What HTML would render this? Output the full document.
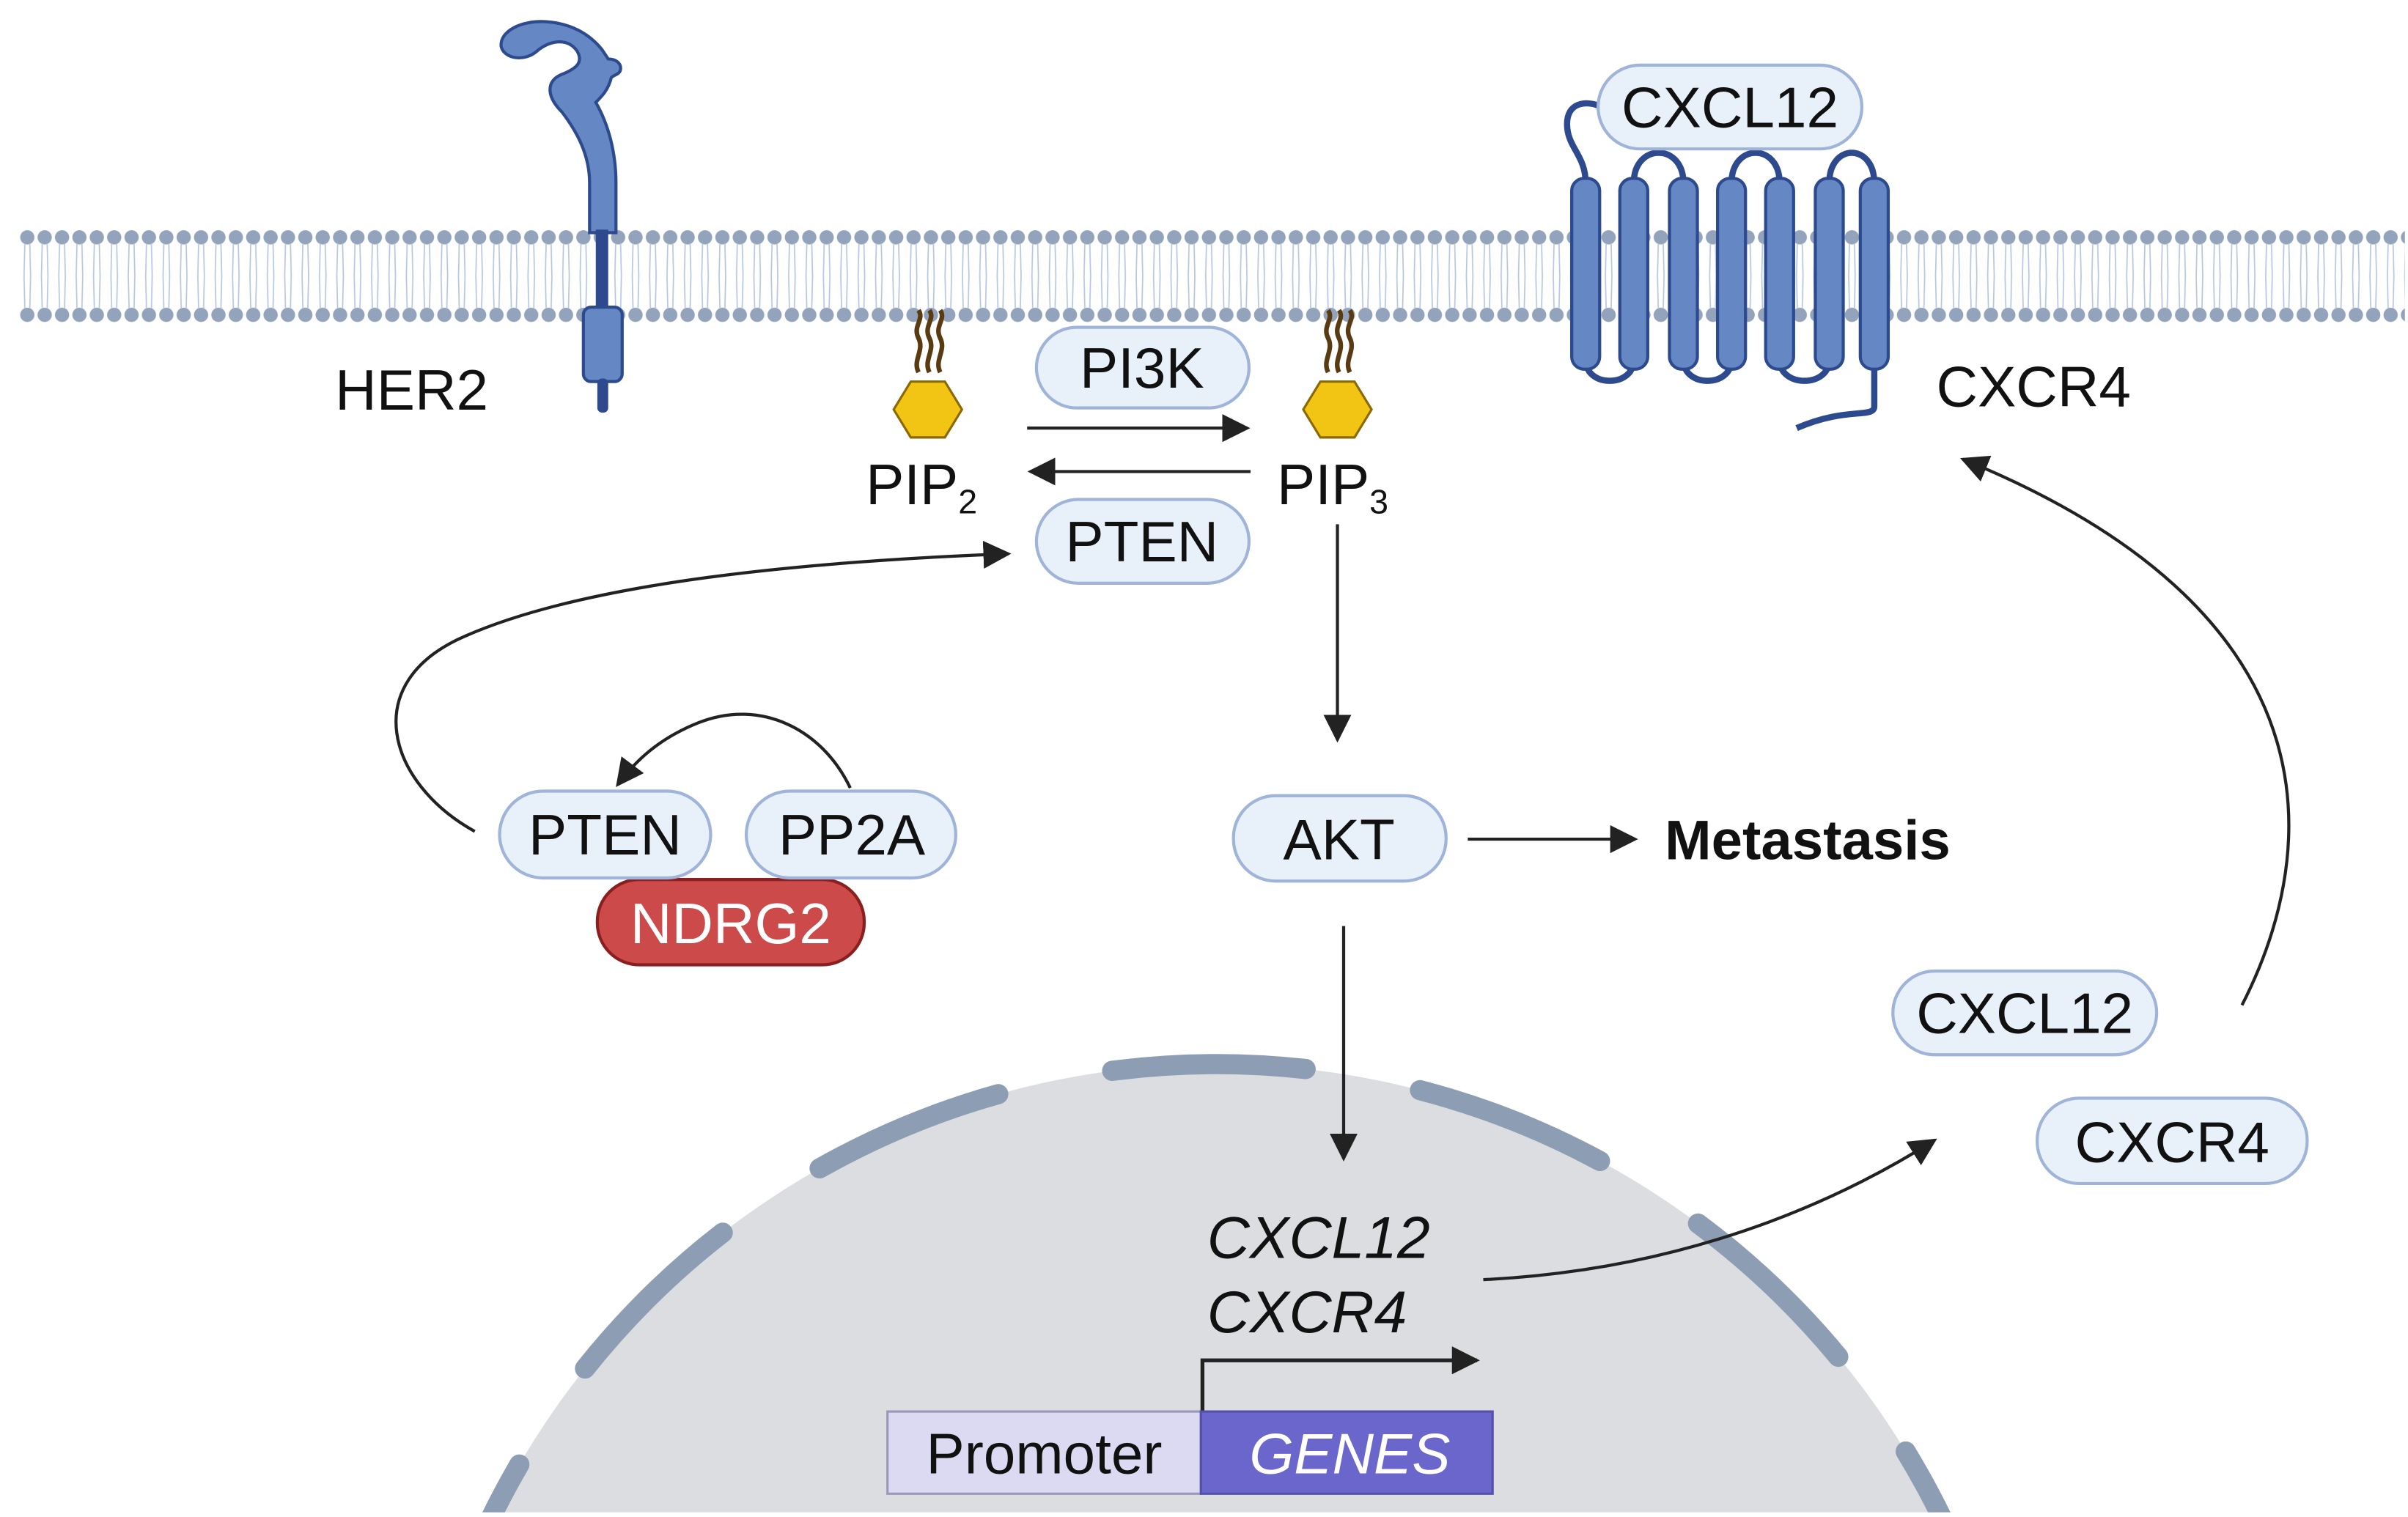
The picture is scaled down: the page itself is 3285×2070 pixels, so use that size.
<!DOCTYPE html>
<html><head><meta charset="utf-8"><style>
html,body{margin:0;padding:0;background:#fff;width:3285px;height:2070px;overflow:hidden}
svg{display:block}
text{font-family:"Liberation Sans",sans-serif}
</style></head><body>
<svg width="3285" height="2070" viewBox="0 0 1552 978" preserveAspectRatio="none" xmlns="http://www.w3.org/2000/svg">
<defs>
<marker id="ah2" viewBox="0 0 10 10" refX="9" refY="5" markerWidth="18" markerHeight="18" orient="auto" markerUnits="userSpaceOnUse"><path d="M0,0 L10,5 L0,10 z" fill="#222"/></marker>
<pattern id="heads" x="12" y="148" width="11.2" height="60" patternUnits="userSpaceOnUse">
<circle cx="5.6" cy="5" r="4.6" fill="#93a3bb"/>
<circle cx="5.6" cy="55" r="4.6" fill="#93a3bb"/>
<path d="M4,9 L3.5,30 M7.2,9 L7.7,30 M4,51 L3.5,30 M7.2,51 L7.7,30" stroke="#b7c6e0" stroke-width="0.8" fill="none"/>
</pattern>
</defs>
<rect width="1552" height="978" fill="#fff"/>
<rect x="12" y="148" width="1538" height="60" fill="url(#heads)"/>

<clipPath id="nc"><rect x="0" y="0" width="1552" height="975"/></clipPath>
<g clip-path="url(#nc)">
<circle cx="784" cy="1206" r="520" fill="#dcdde0"/>
<circle cx="784" cy="1206" r="520" fill="none" stroke="#8d9db4" stroke-width="13" stroke-linecap="round" stroke-dasharray="125 75" stroke-dashoffset="17"/>
</g>

<!-- HER2 -->
<path d="M380,150 L380,118 C380,100 372,85 362,72 C352,62 352,52 362,48 C372,44 376,40 372,33 C366,24 354,26 346,33 C338,40 325,38 323,30 C322,20 336,13 352,14 C368,15 380,22 388,32 L392,38 C396,38 400,40 400,44 C400,48 396,48 394,50 C392,58 388,62 384,66 C392,80 397,98 397,118 L397,150 Z" fill="#6587c4" stroke="#2e4a8e" stroke-width="2"/>
<rect x="384" y="148" width="8" height="52" fill="#2e4a8e"/>
<rect x="376" y="198" width="25" height="48" rx="5" fill="#6587c4" stroke="#2e4a8e" stroke-width="2"/>
<rect x="385" y="244" width="7" height="22" rx="3" fill="#2e4a8e"/>
<text x="216" y="264" font-size="37" fill="#111">HER2</text>

<!-- CXCR4 receptor -->
<g fill="none" stroke="#2e4a8e" stroke-width="4">
<path d="M1022,118 C1022,100 1010,95 1010,80 C1010,66 1022,65 1030,68"/>
<path d="M1053,118 C1053,92 1085,92 1085,118"/>
<path d="M1116,118 C1116,92 1147,92 1147,118"/>
<path d="M1179,118 C1179,92 1208,92 1208,118"/>
<path d="M1022,232 C1022,250 1053,250 1053,232"/>
<path d="M1085,232 C1085,250 1116,250 1116,232"/>
<path d="M1147,232 C1147,250 1179,250 1179,232"/>
<path d="M1208,232 L1208,262 C1208,270 1190,262 1158,276"/>
</g>
<g fill="#6587c4" stroke="#2e4a8e" stroke-width="2">
<rect x="1013" y="115" width="18" height="123" rx="8"/>
<rect x="1044" y="115" width="18" height="123" rx="8"/>
<rect x="1076" y="115" width="18" height="123" rx="8"/>
<rect x="1107" y="115" width="18" height="123" rx="8"/>
<rect x="1138" y="115" width="18" height="123" rx="8"/>
<rect x="1170" y="115" width="18" height="123" rx="8"/>
<rect x="1199" y="115" width="18" height="123" rx="8"/>
</g>
<rect x="1030" y="42" width="170" height="54" rx="27" fill="#e8f0fa" stroke="#9fb4d8" stroke-width="2"/>
<text x="1115" y="82" font-size="37" text-anchor="middle" fill="#111">CXCL12</text>
<text x="1248" y="262" font-size="37" fill="#111">CXCR4</text>

<!-- PIP2 / PIP3 -->
<g fill="none" stroke="#5a3a10" stroke-width="3">
<path d="M592,240 C588,232 596,226 592,218 C588,210 596,206 592,200"/>
<path d="M599,240 C595,232 603,226 599,218 C595,210 603,206 599,200"/>
<path d="M606,240 C602,232 610,226 606,218 C602,210 610,206 606,200"/>
<path d="M856,240 C852,232 860,226 856,218 C852,210 860,206 856,200"/>
<path d="M863,240 C859,232 867,226 863,218 C859,210 867,206 863,200"/>
<path d="M870,240 C866,232 874,226 870,218 C866,210 874,206 870,200"/>
</g>
<polygon points="587,246 609,246 620,264 609,282 587,282 576,264" fill="#f2c515" stroke="#8a6a00" stroke-width="1.5"/>
<polygon points="851,246 873,246 884,264 873,282 851,282 840,264" fill="#f2c515" stroke="#8a6a00" stroke-width="1.5"/>
<text x="558" y="325" font-size="37" fill="#111">PIP<tspan font-size="22" dy="6">2</tspan></text>
<text x="823" y="325" font-size="37" fill="#111">PIP<tspan font-size="22" dy="6">3</tspan></text>

<rect x="668" y="211" width="137" height="52" rx="26" fill="#e8f0fa" stroke="#9fb4d8" stroke-width="2"/>
<text x="736" y="250" font-size="37" text-anchor="middle" fill="#111">PI3K</text>
<rect x="668" y="322" width="137" height="54" rx="27" fill="#e8f0fa" stroke="#9fb4d8" stroke-width="2"/>
<text x="736" y="362" font-size="37" text-anchor="middle" fill="#111">PTEN</text>

<g stroke="#222" stroke-width="2" fill="none">
<line x1="662" y1="276" x2="804" y2="276" marker-end="url(#ah2)"/>
<line x1="806" y1="304" x2="664" y2="304" marker-end="url(#ah2)"/>
<line x1="862" y1="338" x2="862" y2="477" marker-end="url(#ah2)"/>
<line x1="946" y1="541" x2="1054" y2="541" marker-end="url(#ah2)"/>
<line x1="866" y1="597" x2="866" y2="747" marker-end="url(#ah2)"/>
<path d="M306,536 C250,505 230,440 300,410 C380,375 520,362 650,357" marker-end="url(#ah2)"/>
<path d="M548,508 C530,470 490,450 450,466 C425,476 410,490 398,506" marker-end="url(#ah2)"/>
<path d="M1445,648 C1490,560 1520,400 1265,296" marker-end="url(#ah2)"/>
<path d="M956,825 C1060,820 1160,790 1247,735" marker-end="url(#ah2)"/>
<path d="M775,910 L775,877 L952,877" stroke-width="2.5" marker-end="url(#ah2)"/>
</g>

<rect x="795" y="513" width="137" height="55" rx="27" fill="#e8f0fa" stroke="#9fb4d8" stroke-width="2"/>
<text x="863" y="554" font-size="37" text-anchor="middle" fill="#111">AKT</text>
<text x="1073" y="554" font-size="36" font-weight="bold" fill="#111">Metastasis</text>

<rect x="385" y="567" width="172" height="55" rx="27" fill="#cc4a4a" stroke="#8a1f1f" stroke-width="2"/>
<text x="471" y="608" font-size="37" text-anchor="middle" fill="#fff">NDRG2</text>
<rect x="322" y="510" width="136" height="56" rx="28" fill="#e8f0fa" stroke="#9fb4d8" stroke-width="2"/>
<text x="390" y="551" font-size="37" text-anchor="middle" fill="#111">PTEN</text>
<rect x="481" y="510" width="135" height="56" rx="28" fill="#e8f0fa" stroke="#9fb4d8" stroke-width="2"/>
<text x="549" y="551" font-size="37" text-anchor="middle" fill="#111">PP2A</text>

<rect x="1220" y="626" width="170" height="54" rx="27" fill="#e8f0fa" stroke="#9fb4d8" stroke-width="2"/>
<text x="1305" y="666" font-size="37" text-anchor="middle" fill="#111">CXCL12</text>
<rect x="1313" y="708" width="174" height="55" rx="27" fill="#e8f0fa" stroke="#9fb4d8" stroke-width="2"/>
<text x="1400" y="749" font-size="37" text-anchor="middle" fill="#111">CXCR4</text>

<text x="778" y="811" font-size="38" font-style="italic" fill="#111">CXCL12</text>
<text x="778" y="859" font-size="38" font-style="italic" fill="#111">CXCR4</text>
<rect x="572" y="910" width="202" height="53" fill="#dcdaf2" stroke="#9a98b8" stroke-width="1.5"/>
<rect x="774" y="910" width="188" height="53" fill="#6a66cc" stroke="#5550aa" stroke-width="1.5"/>
<text x="673" y="950" font-size="37" text-anchor="middle" fill="#111">Promoter</text>
<text x="870" y="950" font-size="37" font-style="italic" text-anchor="middle" fill="#fff">GENES</text>
</svg>
</body></html>
